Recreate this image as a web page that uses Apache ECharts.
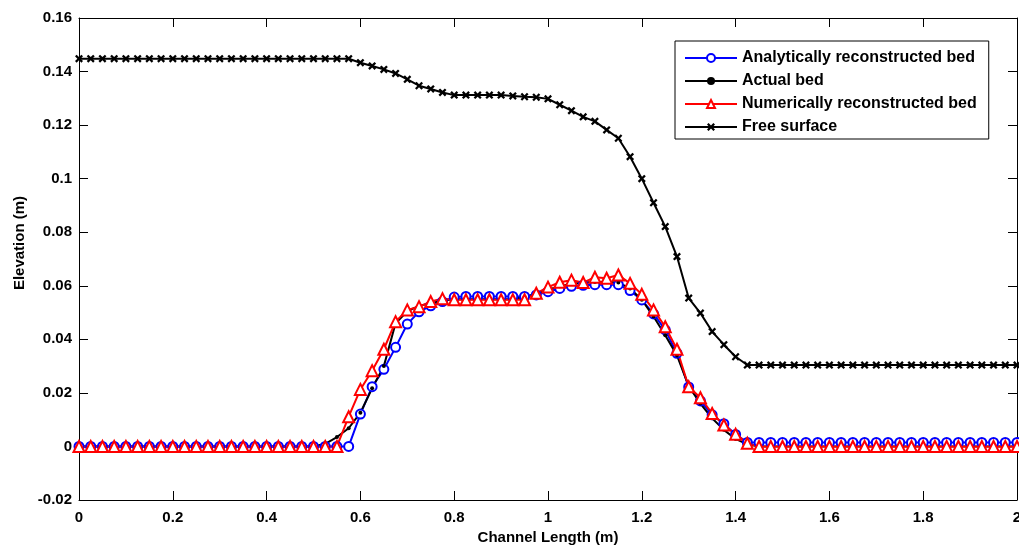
<!DOCTYPE html>
<html>
<head>
<meta charset="utf-8">
<script src="https://cdn.jsdelivr.net/npm/echarts@6/dist/echarts.min.js"></script>
<style>
  html, body { margin: 0; padding: 0; background: #fff; }
  #chart { width: 1019px; height: 547px; }
</style>
</head>
<body>
<div id="chart"></div>
<script>
// channel length (m), sampled every 0.025 m
const channelLength = [
  0, 0.025, 0.05, 0.075, 0.1, 0.125, 0.15, 0.175, 0.2, 0.225,
  0.25, 0.275, 0.3, 0.325, 0.35, 0.375, 0.4, 0.425, 0.45, 0.475,
  0.5, 0.525, 0.55, 0.575, 0.6, 0.625, 0.65, 0.675, 0.7, 0.725,
  0.75, 0.775, 0.8, 0.825, 0.85, 0.875, 0.9, 0.925, 0.95, 0.975,
  1, 1.025, 1.05, 1.075, 1.1, 1.125, 1.15, 1.175, 1.2, 1.225,
  1.25, 1.275, 1.3, 1.325, 1.35, 1.375, 1.4, 1.425, 1.45, 1.475,
  1.5, 1.525, 1.55, 1.575, 1.6, 1.625, 1.65, 1.675, 1.7, 1.725,
  1.75, 1.775, 1.8, 1.825, 1.85, 1.875, 1.9, 1.925, 1.95, 1.975, 2
];

// elevations (m)
const analyticBed = [
  0, 0, 0, 0, 0, 0, 0, 0, 0, 0,
  0, 0, 0, 0, 0, 0, 0, 0, 0, 0,
  0, 0, 0, 0, 0.0121, 0.0223, 0.0288, 0.037, 0.0457, 0.0503,
  0.0525, 0.0541, 0.0558, 0.056, 0.056, 0.056, 0.056, 0.056, 0.056, 0.0566,
  0.0578, 0.059, 0.0598, 0.0602, 0.0604, 0.0604, 0.0604, 0.0582, 0.0547, 0.0495,
  0.0435, 0.0348, 0.0222, 0.017, 0.0118, 0.0085, 0.0045, 0.0015, 0.0015, 0.0015,
  0.0015, 0.0015, 0.0015, 0.0015, 0.0015, 0.0015, 0.0015, 0.0015, 0.0015, 0.0015,
  0.0015, 0.0015, 0.0015, 0.0015, 0.0015, 0.0015, 0.0015, 0.0015, 0.0015, 0.0015, 0.0015
];

const actualBed = [
  0, 0, 0, 0, 0, 0, 0, 0, 0, 0,
  0, 0, 0, 0, 0, 0, 0, 0, 0, 0,
  0, 0.001, 0.0035, 0.0068, 0.0126, 0.0217, 0.03, 0.046, 0.0505, 0.0525,
  0.0535, 0.0545, 0.055, 0.055, 0.055, 0.055, 0.055, 0.055, 0.0558, 0.057,
  0.0585, 0.0598, 0.0607, 0.0612, 0.0614, 0.0614, 0.0612, 0.059, 0.0548, 0.0485,
  0.0415, 0.034, 0.0225, 0.016, 0.0105, 0.0062, 0.0028, 0.0008, 0, 0,
  0, 0, 0, 0, 0, 0, 0, 0, 0, 0,
  0, 0, 0, 0, 0, 0, 0, 0, 0, 0, 0
];

const numericBed = [
  0, 0, 0, 0, 0, 0, 0, 0, 0, 0,
  0, 0, 0, 0, 0, 0, 0, 0, 0, 0,
  0, 0, 0, 0.0111, 0.0213, 0.0283, 0.0363, 0.0466, 0.051, 0.0522,
  0.0541, 0.0552, 0.0548, 0.0548, 0.0548, 0.0548, 0.0548, 0.0548, 0.0548, 0.0572,
  0.0595, 0.0613, 0.0621, 0.0612, 0.0632, 0.0628, 0.064, 0.0609, 0.0568, 0.051,
  0.0447, 0.0363, 0.0223, 0.0182, 0.0123, 0.008, 0.0046, 0.0012, 0, 0,
  0, 0, 0, 0, 0, 0, 0, 0, 0, 0,
  0, 0, 0, 0, 0, 0, 0, 0, 0, 0, 0
];

const freeSurface = [
  0.1448, 0.1448, 0.1448, 0.1448, 0.1448, 0.1448, 0.1448, 0.1448, 0.1448, 0.1448,
  0.1448, 0.1448, 0.1448, 0.1448, 0.1448, 0.1448, 0.1448, 0.1448, 0.1448, 0.1448,
  0.1448, 0.1448, 0.1448, 0.1448, 0.1433, 0.1421, 0.1408, 0.1393, 0.1371, 0.1347,
  0.1335, 0.1322, 0.1312, 0.1312, 0.1312, 0.1312, 0.1312, 0.1309, 0.1306, 0.1304,
  0.1298, 0.1276, 0.1254, 0.1231, 0.1214, 0.1182, 0.1151, 0.1082, 0.1, 0.091,
  0.0821, 0.0709, 0.0554, 0.0498, 0.0429, 0.038, 0.0335, 0.0304, 0.0304, 0.0304,
  0.0304, 0.0304, 0.0304, 0.0304, 0.0304, 0.0304, 0.0304, 0.0304, 0.0304, 0.0304,
  0.0304, 0.0304, 0.0304, 0.0304, 0.0304, 0.0304, 0.0304, 0.0304, 0.0304, 0.0304, 0.0304
];

const seriesNames = [
  "Analytically reconstructed bed",
  "Actual bed",
  "Numerically reconstructed bed",
  "Free surface",
];

const FONT = "'Liberation Sans', Arial, sans-serif";
const crossMark = "path://M0,2L2,0L5,3L8,0L10,2L7,5L10,8L8,10L5,7L2,10L0,8L3,5Z";

function pairs(ys) {
  return channelLength.map((x, i) => [x, ys[i]]);
}

function fmt(value) {
  return String(parseFloat(value.toFixed(2)));
}

// matlab style box: plain black lines, ticks pointing inward
const axisLine = { onZero: false, lineStyle: { color: "#000", width: 1 } };
const tickIn = { inside: true, length: 9, lineStyle: { color: "#000", width: 1 } };
const labelStyle = {
  color: "#000",
  fontFamily: FONT,
  fontWeight: "bold",
  fontSize: 15,
  formatter: fmt,
};

const chart = echarts.init(document.getElementById("chart"));

const option = {
  animation: false,
  backgroundColor: "#fff",
  grid: {
    left: 79,
    right: 2,
    top: 18,
    bottom: 47,
    containLabel: false,
    outerBoundsMode: "none",
  },
  legend: {
    orient: "vertical",
    left: 675,
    top: 41,
    backgroundColor: "#fff",
    borderColor: "#000",
    borderWidth: 1,
    borderRadius: 0,
    padding: [9, 12, 4, 9],
    itemGap: 7,
    itemWidth: 52,
    itemHeight: 10,
    textStyle: { color: "#000", fontFamily: FONT, fontWeight: "bold", fontSize: 16 },
    data: seriesNames,
  },
  xAxis: [
    {
      type: "value",
      min: 0,
      max: 2,
      interval: 0.2,
      axisLine: axisLine,
      axisTick: tickIn,
      axisLabel: Object.assign({ margin: 10 }, labelStyle),
      splitLine: { show: false },
      name: "Channel Length (m)",
      nameLocation: "middle",
      nameGap: 29,
      nameTextStyle: { color: "#000", fontFamily: FONT, fontWeight: "bold", fontSize: 15 },
    },
    {
      type: "value",
      position: "top",
      min: 0,
      max: 2,
      interval: 0.2,
      axisLine: axisLine,
      axisTick: tickIn,
      axisLabel: { show: false },
      splitLine: { show: false },
    },
  ],
  yAxis: [
    {
      type: "value",
      min: -0.02,
      max: 0.16,
      interval: 0.02,
      axisLine: axisLine,
      axisTick: tickIn,
      axisLabel: Object.assign({ margin: 7 }, labelStyle),
      splitLine: { show: false },
      name: "Elevation (m)",
      nameLocation: "middle",
      nameGap: 49,
      nameTextStyle: {
        color: "#000",
        fontFamily: FONT,
        fontWeight: "bold",
        fontSize: 15,
        padding: [0, 0, 0, 32],
      },
    },
    {
      type: "value",
      position: "right",
      min: -0.02,
      max: 0.16,
      interval: 0.02,
      axisLine: axisLine,
      axisTick: tickIn,
      axisLabel: { show: false },
      splitLine: { show: false },
    },
  ],
  series: [
    {
      name: seriesNames[0],
      type: "line",
      data: pairs(analyticBed),
      symbol: "emptyCircle",
      symbolSize: 9,
      lineStyle: { color: "#0000ff", width: 2 },
      itemStyle: { color: "#0000ff", borderWidth: 1.5 },
    },
    {
      name: seriesNames[1],
      type: "line",
      data: pairs(actualBed),
      symbol: "circle",
      symbolSize: 4,
      lineStyle: { color: "#000", width: 2 },
      itemStyle: { color: "#000" },
    },
    {
      name: seriesNames[2],
      type: "line",
      data: pairs(numericBed),
      symbol: "emptyTriangle",
      symbolSize: 11,
      lineStyle: { color: "#ff0000", width: 2 },
      itemStyle: { color: "#ff0000", borderWidth: 1.5 },
    },
    {
      name: seriesNames[3],
      type: "line",
      data: pairs(freeSurface),
      symbol: crossMark,
      symbolSize: 8,
      lineStyle: { color: "#000", width: 2 },
      itemStyle: { color: "#000" },
    },
  ],
};

chart.setOption(option);
</script>
</body>
</html>
